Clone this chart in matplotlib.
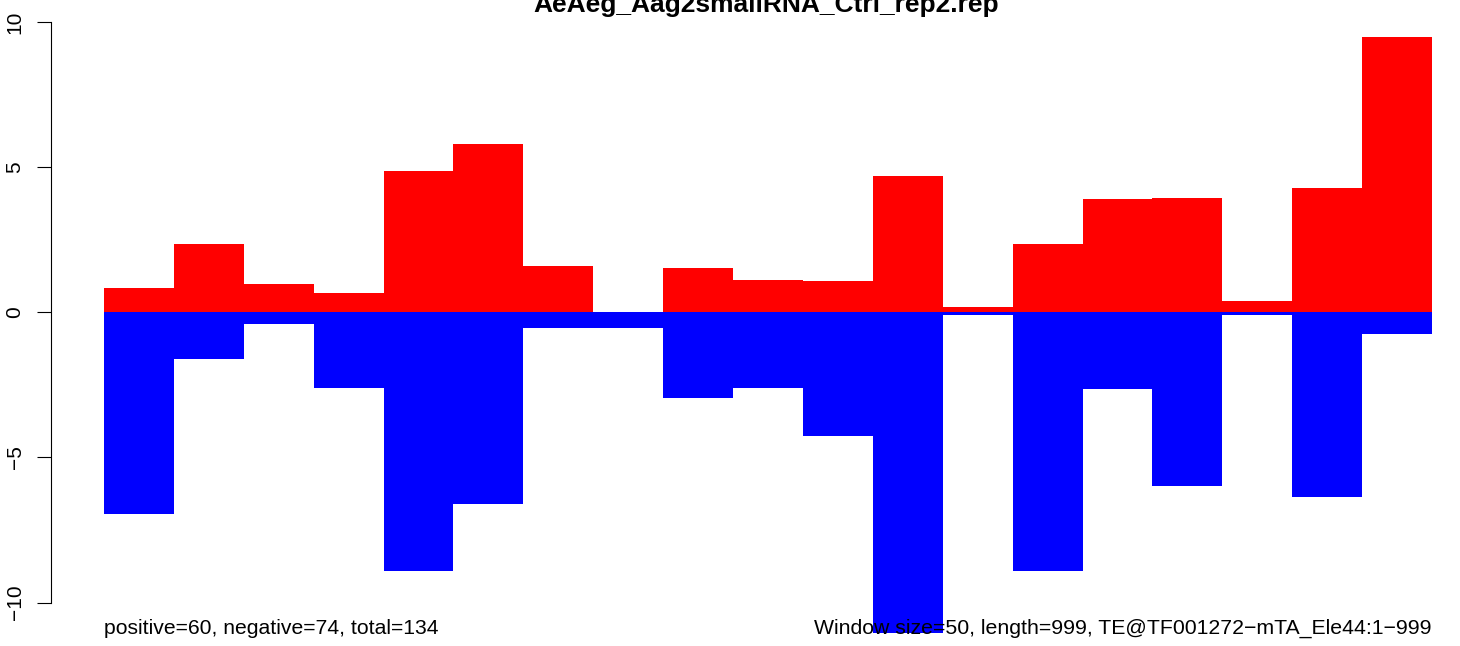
import numpy as np
import matplotlib
matplotlib.use("Agg")
from matplotlib import pyplot as plt

plt.rcParams['font.family'] = ['Liberation Sans', 'DejaVu Sans']

# reads par fenetre de 50 nt (valeurs normalisees)
fenetre = 50
longueur = 999
positif = [0.84, 2.35, 0.97, 0.66, 4.86, 5.80, 1.59, 0.0, 1.52, 1.11,
           1.08, 4.69, 0.18, 2.35, 3.90, 3.94, 0.39, 4.28, 9.48]
negatif = [-6.94, -1.61, -0.40, -2.61, -8.91, -6.60, -0.54, -0.54, -2.95, -2.61,
           -4.26, -11.06, -0.10, -8.91, -2.64, -5.99, -0.10, -6.37, -0.75]
y_ticks = [-10, -5, 0, 5, 10]

titre = "AeAeg_Aag2smallRNA_Ctrl_rep2.rep"
texte_gauche = "positive=60, negative=74, total=134"
texte_droite = "Window size=50, length=999, TE@TF001272\u2212mTA_Ele44:1\u2212999"

W, H = 1460, 646
fig = plt.figure(figsize=(W / 100, H / 100), dpi=100)

# axe place en pixels pour coller a la figure R
x0_px = 104     # debut des barres
x1_px = 1432    # fin des barres
px_x = (x1_px - x0_px) / (len(positif) * fenetre)   # pixels par nt
px_y = 29.03    # pixels par unite
y0_px = 312.3   # ligne du zero
ax_left = 51
ax = fig.add_axes([ax_left / W, 0, 1 - ax_left / W, 1])
ax.set_xlim((ax_left - x0_px) / px_x, (W - x0_px) / px_x)
ax.set_ylim((y0_px - H) / px_y, y0_px / px_y)

x = np.arange(len(positif)) * fenetre
ax.bar(x, positif, width=fenetre, align='edge', color='#FF0000', linewidth=0)
ax.bar(x, negatif, width=fenetre, align='edge', color='#0000FF', linewidth=0)

for s in ['top', 'right', 'bottom']:
    ax.spines[s].set_visible(False)
ax.spines['left'].set_bounds(-10, 10)
ax.spines['left'].set_linewidth(0.8)
ax.set_xticks([])
ax.set_yticks(y_ticks)
ax.set_yticklabels([str(v).replace('-', '\u2212') for v in y_ticks],
                   rotation=90, va='center', fontsize=15)
ax.tick_params(axis='y', length=10, width=0.8, pad=9)

fig.text(766 / W, 1 - 12 / H, titre, ha='center', va='baseline',
         fontsize=19, fontweight='bold')
fig.text(x0_px / W, 1 - 634 / H, texte_gauche, ha='left', va='baseline', fontsize=15.2)
fig.text(x1_px / W, 1 - 634 / H, texte_droite, ha='right', va='baseline', fontsize=15.3)

fig.savefig("out.png", dpi=100)
